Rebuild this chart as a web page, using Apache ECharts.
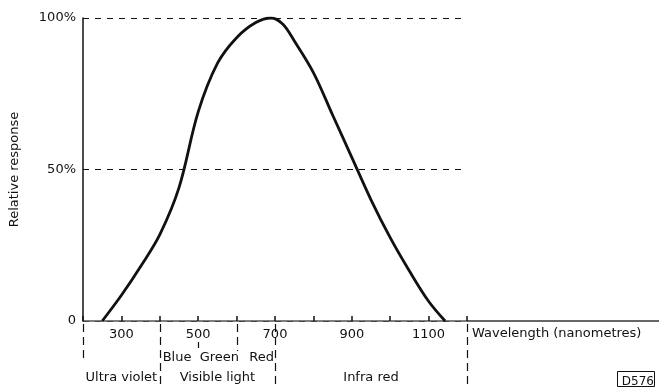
<!DOCTYPE html>
<html>
<head>
<meta charset="utf-8">
<script src="https://cdn.jsdelivr.net/npm/echarts@6/dist/echarts.min.js"></script>
<style>
  html, body { margin: 0; padding: 0; background: #fff; }
  #chart { width: 659px; height: 389px; }
</style>
</head>
<body>
<div id="chart"></div>
<script>
// spectral response curve
const wavelengths = [250, 300, 350, 400, 450, 500, 550, 600, 650, 690, 720, 750, 800, 850, 900, 950, 1000, 1050, 1100, 1143]
const response    = [0, 8.5, 18, 28.5, 44, 69, 85, 93.5, 98.5, 100, 98, 92.5, 82, 68, 54, 40, 27.5, 16.5, 6.5, 0]

const xTickLabels = [300, 500, 700, 900, 1100]
const yTickLabels = { 0: '0', 50: '50%', 100: '100%' }

const bandNames = ['Ultra violet', 'Visible light', 'Infra red']
const bandFrom = [200, 400, 700]
const bandTo = [400, 700, 1200]
const colourNames = ['Blue', 'Green', 'Red']
const colourCentres = [445, 555, 665]

const FONT = 'DejaVu Sans'
const INK = '#111'

const chart = echarts.init(document.getElementById('chart'))

chart.setOption({
  animation: false,
  textStyle: { fontFamily: FONT },
  grid: { left: 83, right: 192, top: 18, bottom: 68 },
  xAxis: {
    type: 'value',
    min: 200,
    max: 1200,
    interval: 100,
    axisLine: { lineStyle: { color: '#555', width: 1.5 } },
    axisTick: { inside: true, length: 5, lineStyle: { color: INK, width: 1.5 } },
    axisLabel: {
      margin: 7,
      color: INK,
      fontSize: 13,
      formatter: (v) => (xTickLabels.includes(v) ? String(v) : ''),
    },
    splitLine: { show: false },
  },
  yAxis: {
    type: 'value',
    min: 0,
    max: 100,
    interval: 50,
    name: 'Relative response',
    nameLocation: 'middle',
    nameGap: 62,
    nameTextStyle: { color: INK, fontSize: 13 },
    axisLine: { show: true, lineStyle: { color: INK, width: 1.5 } },
    axisTick: { show: false },
    axisLabel: {
      margin: 7,
      color: INK,
      fontSize: 13,
      formatter: (v) => yTickLabels[v] ?? '',
    },
    splitLine: { show: true, lineStyle: { color: INK, width: 1, type: [6, 6] } },
  },
  series: [{
    type: 'line',
    smooth: 0.35,
    symbol: 'none',
    lineStyle: { color: INK, width: 2.8 },
    data: wavelengths.map((w, i) => [w, response[i]]),
  }],
})

// decorations below the axis, placed through the axis scale
function px(w) { return chart.convertToPixel({ xAxisIndex: 0 }, w) }
const y0 = chart.convertToPixel({ yAxisIndex: 0 }, 0)
const W = chart.getWidth()

const dashed = { stroke: INK, lineWidth: 1.2, lineDash: [8, 5] }
const edgeLen = { 200: 38, 400: 70, 600: 30, 700: 70, 1200: 70 }
const graphics = []

Object.keys(edgeLen).forEach((w) => {
  const x = Math.round(px(+w)) + 0.5
  graphics.push({
    type: 'line',
    shape: { x1: x, y1: y0 + 3, x2: x, y2: y0 + edgeLen[w] },
    style: dashed,
  })
})

// short mark under 500 (green)
graphics.push({
  type: 'line',
  shape: { x1: Math.round(px(500)) + 0.5, y1: y0 + 21, x2: Math.round(px(500)) + 0.5, y2: y0 + 27 },
  style: { stroke: INK, lineWidth: 1.2 },
})

// axis continues past the plot under the axis title
graphics.push({
  type: 'line',
  shape: { x1: px(1200), y1: y0, x2: W, y2: y0 },
  style: { stroke: '#333', lineWidth: 1.5 },
})

graphics.push({
  type: 'text',
  x: px(1200) + 5,
  y: y0 + 13,
  style: { text: 'Wavelength (nanometres)', font: '13px ' + FONT, fill: INK, verticalAlign: 'middle' },
})

colourNames.forEach((name, i) => {
  graphics.push({
    type: 'text',
    x: px(colourCentres[i]),
    y: y0 + 37,
    style: { text: name, font: '13px ' + FONT, fill: INK, align: 'center', verticalAlign: 'middle' },
  })
})

bandNames.forEach((name, i) => {
  graphics.push({
    type: 'text',
    x: (px(bandFrom[i]) + px(bandTo[i])) / 2,
    y: y0 + 57,
    style: { text: name, font: '13px ' + FONT, fill: INK, align: 'center', verticalAlign: 'middle' },
  })
})

graphics.push({
  type: 'text',
  right: 5,
  bottom: 1,
  style: { text: 'D576', font: '12px ' + FONT, fill: INK },
})
graphics.push({
  type: 'rect',
  right: 2,
  bottom: 0,
  shape: { width: 37, height: 15 },
  style: { fill: 'none', stroke: INK, lineWidth: 1 },
})

chart.setOption({ graphic: graphics })
</script>
</body>
</html>
